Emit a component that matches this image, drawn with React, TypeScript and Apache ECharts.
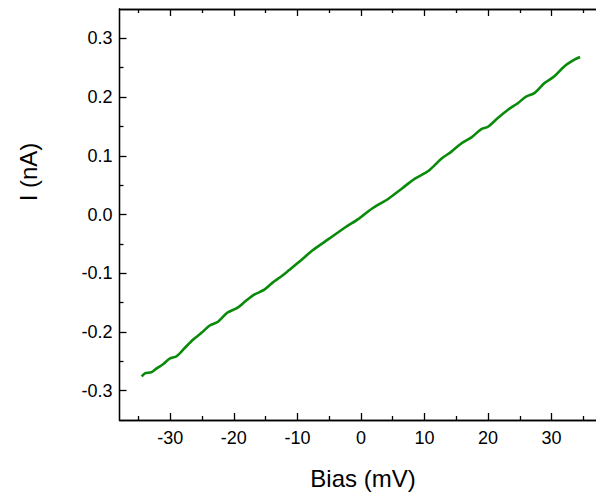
import React, { useEffect, useRef } from "react";
import * as echarts from "echarts";

// Bias sweep (mV) and measured current (nA)
const biasMv = [
  -34.5, -34.0, -33.0, -32.2, -31.1, -30.1, -29.0, -27.7, -26.4, -25.1, -23.8,
  -22.5, -21.0, -19.4, -18.1, -16.8, -15.2, -13.9, -12.6, -11.3, -9.2, -7.7,
  -5.05, -2.44, -0.36, 1.72, 4.33, 6.42, 8.5, 10.6, 12.7, 14.2, 15.8, 17.4,
  18.9, 20.0, 21.5, 23.1, 24.7, 26.0, 27.3, 28.9, 30.4, 32.0, 33.6, 34.5,
];
const currentNa = [
  -0.276, -0.2705, -0.2687, -0.2625, -0.2546, -0.2455, -0.2414, -0.227, -0.213,
  -0.2015, -0.189, -0.1826, -0.167, -0.1587, -0.147, -0.1365, -0.128, -0.116,
  -0.106, -0.0947, -0.0759, -0.0616, -0.0416, -0.0217, -0.0074, 0.0098, 0.0269,
  0.044, 0.0611, 0.0740, 0.0954, 0.1067, 0.121, 0.1313, 0.145, 0.1495, 0.1639,
  0.178, 0.1896, 0.2009, 0.2067, 0.2238, 0.235, 0.2522, 0.2637, 0.2683,
];

// Tick positions
const xMajorTicks = [-30, -20, -10, 0, 10, 20, 30];
const xMinorTicks = [-35, -25, -15, -5, 5, 15, 25, 35];
const yMajorTicks = [-0.3, -0.2, -0.1, 0, 0.1, 0.2, 0.3];
const yMinorTicks = [-0.25, -0.15, -0.05, 0.05, 0.15, 0.25];

const X_MIN = -38;
const X_MAX = 37;
const Y_MIN = -0.35;
const Y_MAX = 0.35;

const FONT = "'Liberation Sans', Arial, sans-serif";
const AXIS_COLOR = "#000";

function xAxisDef(position: "top" | "bottom", ticks: number[], len: number, labels: boolean) {
  return {
    type: "value" as const,
    position,
    min: X_MIN,
    max: X_MAX,
    axisLine: { show: true, onZero: false, lineStyle: { color: AXIS_COLOR, width: 1.3 } },
    axisTick: {
      show: true,
      inside: true,
      length: len,
      customValues: ticks,
      lineStyle: { color: AXIS_COLOR, width: 1.3 },
    },
    axisLabel: {
      show: labels,
      customValues: ticks,
      margin: 9,
      fontSize: 18,
      color: "#000",
      fontFamily: FONT,
      formatter: (v: number) => String(Math.round(v)),
    },
    splitLine: { show: false },
  };
}

function yAxisDef(ticks: number[], len: number, labels: boolean) {
  return {
    type: "value" as const,
    position: "left" as const,
    min: Y_MIN,
    max: Y_MAX,
    axisLine: { show: true, onZero: false, lineStyle: { color: AXIS_COLOR, width: 1.3 } },
    axisTick: {
      show: true,
      inside: true,
      length: len,
      customValues: ticks,
      lineStyle: { color: AXIS_COLOR, width: 1.3 },
    },
    axisLabel: {
      show: labels,
      customValues: ticks,
      margin: 7,
      fontSize: 18,
      color: "#000",
      fontFamily: FONT,
      formatter: (v: number) => v.toFixed(1),
    },
    splitLine: { show: false },
  };
}

export default function App() {
  const ref = useRef<HTMLDivElement>(null);

  useEffect(() => {
    if (!ref.current) return;
    const chart = echarts.init(ref.current, undefined, { renderer: "svg" });
    const points = biasMv.map((v, i) => [v, currentNa[i]]);

    chart.setOption({
      animation: false,
      backgroundColor: "#fff",
      grid: { left: 119.5, top: 9, width: 479.25, height: 411, containLabel: false },
      xAxis: [
        xAxisDef("bottom", xMajorTicks, 7, true),
        xAxisDef("bottom", xMinorTicks, 4, false),
        xAxisDef("top", xMajorTicks, 7, false),
        xAxisDef("top", xMinorTicks, 4, false),
      ],
      yAxis: [yAxisDef(yMajorTicks, 7, true), yAxisDef(yMinorTicks, 4, false)],
      graphic: [
        {
          type: "text",
          x: 363,
          y: 478,
          style: {
            text: "Bias (mV)",
            font: `24px ${FONT}`,
            fill: "#000",
            align: "center",
            verticalAlign: "middle",
          },
        },
        {
          type: "text",
          x: 28,
          y: 172,
          rotation: Math.PI / 2,
          style: {
            text: "I (nA)",
            font: `24px ${FONT}`,
            fill: "#000",
            align: "center",
            verticalAlign: "middle",
          },
        },
      ],
      series: [
        {
          type: "line",
          xAxisIndex: 0,
          yAxisIndex: 0,
          data: points,
          showSymbol: false,
          smooth: 0.3,
          lineStyle: { color: "#0a8a0a", width: 2.6 },
        },
      ],
    });

    return () => chart.dispose();
  }, []);

  return (
    <div
      ref={ref}
      style={{ position: "absolute", left: 0, top: 0, width: 596, height: 498 }}
    />
  );
}
